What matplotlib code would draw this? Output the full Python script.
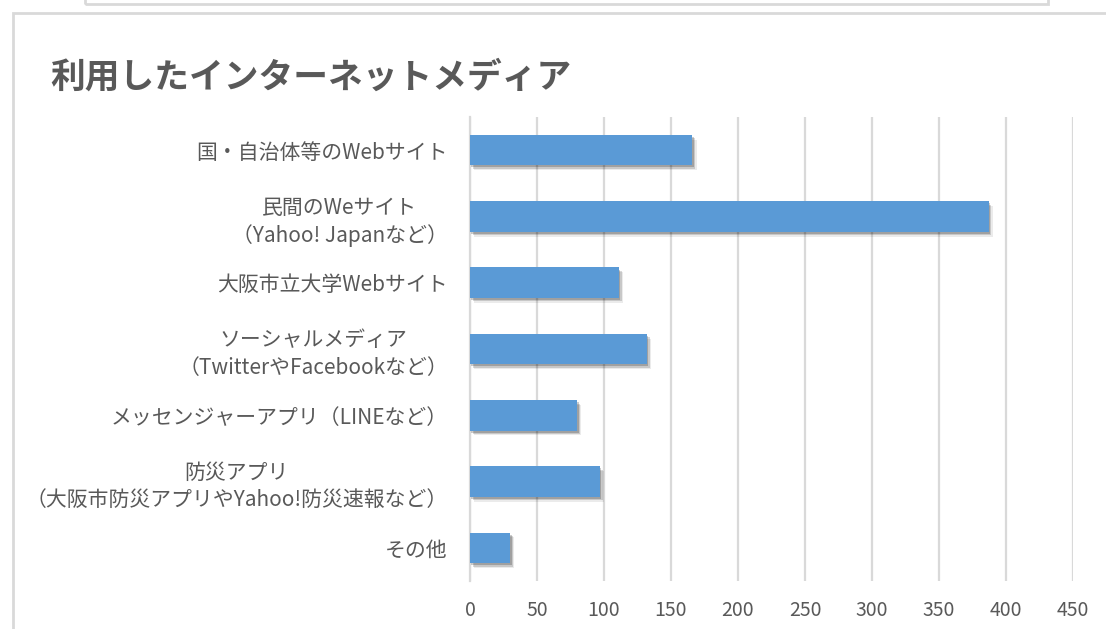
import matplotlib
matplotlib.use("Agg")
import matplotlib.pyplot as plt
import matplotlib.patheffects as pe
from matplotlib.patches import Rectangle

plt.rcParams['font.family'] = ['Noto Sans CJK JP', 'DejaVu Sans']

# data
categories = [
    "国・自治体等のWebサイト",
    "民間のWeサイト\n（Yahoo! Japanなど）",
    "大阪市立大学Webサイト",
    "ソーシャルメディア\n（TwitterやFacebookなど）",
    "メッセンジャーアプリ（LINEなど）",
    "防災アプリ\n（大阪市防災アプリやYahoo!防災速報など）",
    "その他",
]
counts = [166, 387, 111, 132, 80, 97, 30]
xticks = [0, 50, 100, 150, 200, 250, 300, 350, 400, 450]

W, H = 1106, 629
fig = plt.figure(figsize=(W / 100, H / 100), dpi=100)

# outer chart frames (the sheet around the chart)
fig.add_artist(Rectangle((13 / W, -0.05), 1.2, 1 - 13 / H + 0.05, transform=fig.transFigure,
                         fill=False, edgecolor="#d9d9d9", lw=2))
fig.add_artist(Rectangle((85 / W, 1 - 4 / H), (1048 - 85) / W, 0.1, transform=fig.transFigure,
                         fill=False, edgecolor="#d9d9d9", lw=2))

ax = fig.add_axes([470 / W, 1 - 581 / H, (1073 - 470) / W, (581 - 117) / H])
ypos = list(range(len(categories)))
bars = ax.barh(ypos, counts, height=0.46, color="#5a9ad6", zorder=3)
for b in bars:
    # soft drop shadow like the Excel bar style
    b.set_path_effects([
        pe.SimplePatchShadow(offset=(3, -3.5), shadow_rgbFace="k", alpha=0.08),
        pe.SimplePatchShadow(offset=(2, -2.5), shadow_rgbFace="k", alpha=0.15),
        pe.SimplePatchShadow(offset=(1, -1.5), shadow_rgbFace="k", alpha=0.2),
        pe.Normal(),
    ])

ax.set_xlim(0, 450)
ax.set_ylim(len(categories) - 0.5, -0.5)
ax.set_xticks(xticks)
ax.set_xticklabels([str(v) for v in xticks], fontsize=14, color="#595959")
ax.set_yticks(ypos)
ax.set_yticklabels(categories, fontsize=15, color="#595959", multialignment="center",
                   linespacing=1.3)
ax.tick_params(axis="both", length=0)
ax.tick_params(axis="y", pad=16)
ax.tick_params(axis="x", pad=14)
ax.grid(axis="x", color="#d9d9d9", lw=1.6, zorder=0)
for s in ["top", "right", "bottom"]:
    ax.spines[s].set_visible(False)
ax.spines["left"].set_color("#d9d9d9")
ax.spines["left"].set_linewidth(1.6)

fig.text(50 / W, 1 - 77 / H, "利用したインターネットメディア", fontsize=25, fontweight="bold",
         color="#595959", va="center", ha="left")

fig.savefig("out.png", dpi=100, facecolor="white")
